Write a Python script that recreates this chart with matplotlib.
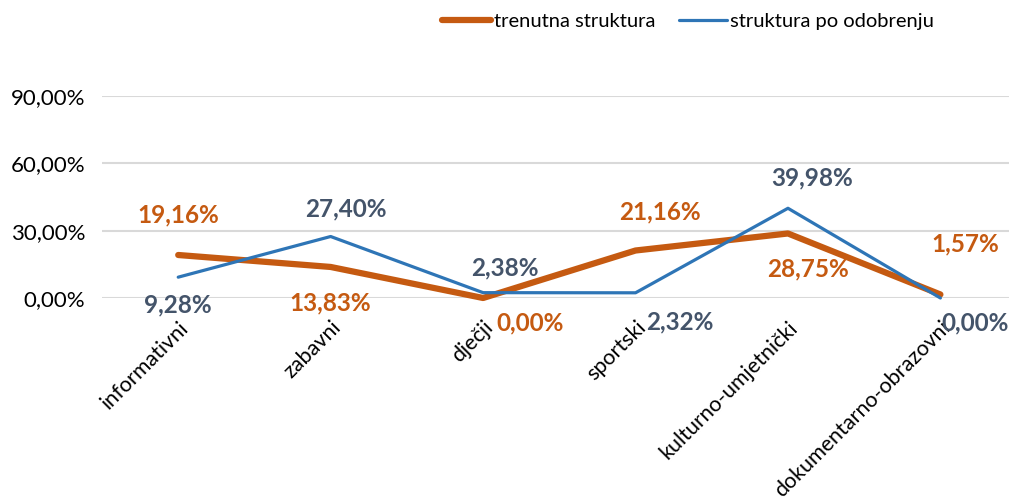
import numpy as np
import matplotlib.pyplot as plt

categories = ['informativni', 'zabavni', 'dječji', 'sportski',
              'kulturno-umjetnički', 'dokumentarno-obrazovni']
trenutna = [19.16, 13.83, 0.00, 21.16, 28.75, 1.57]
odobrenje = [9.28, 27.40, 2.38, 2.32, 39.98, 0.00]
yticks = [0, 30, 60, 90]

orange = '#C55A11'
blue = '#2E75B6'
blue_lbl = '#44546A'

plt.rcParams['font.family'] = ['Lato', 'DejaVu Sans']

fig = plt.figure(figsize=(10.09, 5.04), dpi=100)
ax = fig.add_axes([102 / 1009, 1 - 298 / 504, 907 / 1009, 202 / 504])

x = np.arange(len(categories))
ax.plot(x, trenutna, color=orange, lw=4.5, solid_capstyle='round',
        label='trenutna struktura', clip_on=False, zorder=3)
ax.plot(x, odobrenje, color=blue, lw=2.3, solid_capstyle='round',
        label='struktura po odobrenju', clip_on=False, zorder=4)

ax.set_xlim(-0.5, 5.45)
ax.set_ylim(0, 90)
ax.set_yticks(yticks)
ax.set_yticklabels([f'{v:.2f}%'.replace('.', ',') for v in yticks], fontsize=16)
ax.yaxis.grid(True, color='#D9D9D9', lw=1.5)
ax.set_axisbelow(True)
for s in ax.spines.values():
    s.set_visible(False)
ax.tick_params(length=0)
ax.tick_params(axis='y', pad=12)
ax.set_xticks(x)
ax.set_xticklabels(categories, rotation=45, ha='right', va='top',
                   rotation_mode='anchor', fontsize=15.5)
ax.tick_params(axis='x', pad=14)

# label offsets in pixels (dx, dy with y up)
off_t = [(0, 40), (0, -36), (47, -25), (24, 39), (20, -35), (25, 51)]
off_o = [(0, -28), (15, 28), (22, 25), (44, -29), (24, 30), (35, -25)]
for i in range(len(categories)):
    ax.annotate(f'{trenutna[i]:.2f}%'.replace('.', ','), (x[i], trenutna[i]),
                xytext=off_t[i], textcoords='offset pixels', ha='center',
                va='center', color=orange, fontsize=17.5, fontweight='bold',
                annotation_clip=False)
    ax.annotate(f'{odobrenje[i]:.2f}%'.replace('.', ','), (x[i], odobrenje[i]),
                xytext=off_o[i], textcoords='offset pixels', ha='center',
                va='center', color=blue_lbl, fontsize=17.5, fontweight='bold',
                annotation_clip=False)

fig.legend(loc='upper right', bbox_to_anchor=(0.944, 1.01), ncol=2, frameon=False,
           fontsize=14.5, handlelength=2.4, handletextpad=0.15, columnspacing=1.2)

fig.savefig('out.png', dpi=100)
